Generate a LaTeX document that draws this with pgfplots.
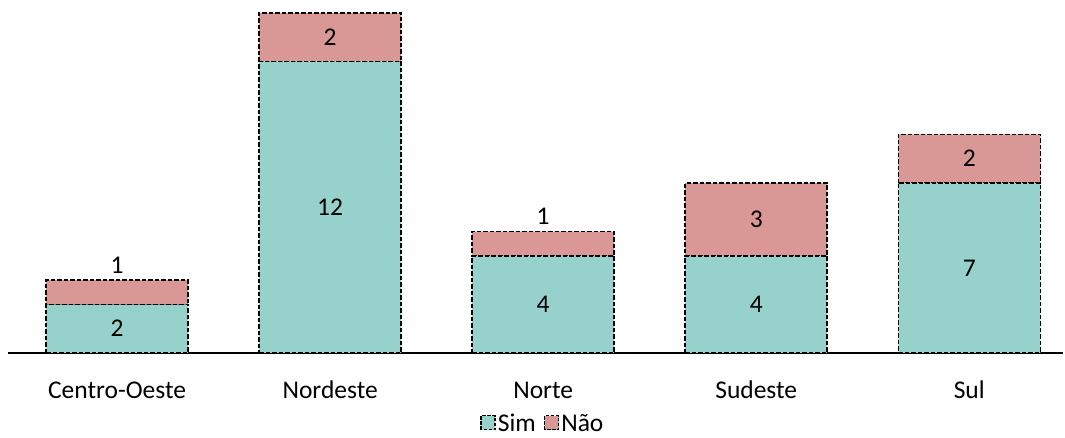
\documentclass[border=0pt]{standalone}
\usepackage{pgfplots}
\pgfplotsset{compat=1.18}
\usepackage{fontspec}
\setmainfont{Carlito}
\definecolor{sim}{HTML}{96D1CC}
\definecolor{nao}{HTML}{D99795}
\tikzset{lbl/.style={font=\fontsize{25.5}{30}\selectfont}}
\begin{document}
\begin{tikzpicture}[x=1pt,y=1pt]
\useasboundingbox (0,0) rectangle (1065,438);
\begin{axis}[
  at={(8pt,85pt)}, anchor=south west,
  scale only axis, width=1055pt, height=353pt,
  ybar stacked, bar width=142pt,
  xmin=-0.512, xmax=4.44, ymin=0, ymax=14.53,
  axis x line=bottom, axis y line=none,
  x axis line style={-, line width=1.5pt},
  xtick=data, major tick length=0pt,
  xticklabels={Centro-Oeste,Nordeste,Norte,Sudeste,Sul},
  xticklabel style={font=\fontsize{25.5}{30}\selectfont, text height=16pt, text depth=5pt, yshift=-26pt},
  legend columns=2,
  legend style={at={(0.507,-0.2)}, anchor=center, draw=none, fill=none, inner sep=0pt,
    font=\fontsize{25.5}{30}\selectfont,
    /tikz/every even column/.append style={column sep=6pt}},
  legend image code/.code={\draw[#1, line width=1.5pt, dash pattern=on 3.5pt off 1.5pt] (0pt,-6pt) rectangle (14pt,8pt);},
  clip=false,
]
\addplot[fill=sim, draw=black, line width=1.5pt, dash pattern=on 4.5pt off 2pt] coordinates {(0,2) (1,12) (2,4) (3,4) (4,7)};
\addplot[fill=nao, draw=black, line width=1.5pt, dash pattern=on 4.5pt off 2pt] coordinates {(0,1) (1,2) (2,1) (3,3) (4,2)};
\legend{Sim,Não}
% anchor points for the value labels (segment middles, bar tops)
\coordinate (s0) at (axis cs:0,1);
\coordinate (s1) at (axis cs:1,6);
\coordinate (s2) at (axis cs:2,2);
\coordinate (s3) at (axis cs:3,2);
\coordinate (s4) at (axis cs:4,3.5);
\coordinate (n0) at (axis cs:0,3);
\coordinate (n1) at (axis cs:1,13);
\coordinate (n2) at (axis cs:2,5);
\coordinate (n3) at (axis cs:3,5.5);
\coordinate (n4) at (axis cs:4,8);
\end{axis}
% value labels drawn over the bars
\node[lbl] at (s0) {2};
\node[lbl] at (s1) {12};
\node[lbl] at (s2) {4};
\node[lbl] at (s3) {4};
\node[lbl] at (s4) {7};
\node[lbl, above=3pt] at (n0) {1};
\node[lbl] at (n1) {2};
\node[lbl, above=3pt] at (n2) {1};
\node[lbl] at (n3) {3};
\node[lbl] at (n4) {2};
\end{tikzpicture}
\end{document}
